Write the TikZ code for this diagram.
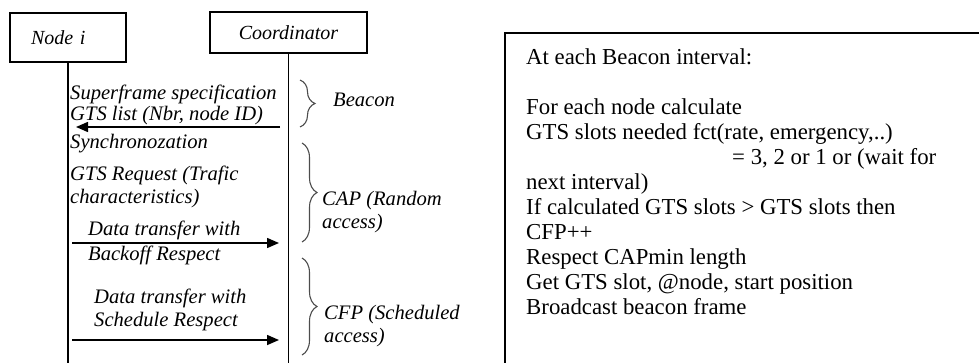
\documentclass[tikz,border=0pt]{standalone}
\usepackage{fontspec}
\setmainfont{Liberation Serif}
\usetikzlibrary{arrows.meta,decorations.pathreplacing}

\begin{document}
\begin{tikzpicture}[x=1pt,y=-1pt,
  actor/.style={draw, line width=1.6pt, inner sep=0pt,
    font=\fontsize{20}{22}\selectfont\itshape},
  lifeline/.style={line width=1.6pt},
  msg/.style={line width=1.5pt, -{Triangle[length=12pt,width=10pt]}},
  lbl/.style={inner sep=0pt, anchor=west, align=left,
    font=\fontsize{20.6}{23}\selectfont\itshape},
  phase/.style={draw=black!70, line width=1.1pt, decorate,
    decoration={brace, amplitude=15pt}},
]
\useasboundingbox (0,0) rectangle (979,362);
\clip (0,0) rectangle (979,362);

% participants
\node[actor, minimum width=116pt, minimum height=49pt, text width=74pt, align=left]
  (nodei) at (68,37.5) {Node i};
\node[actor, minimum width=157pt, minimum height=41pt] (coord) at (288.5,32.5) {Coordinator};

% lifelines
\coordinate (nodeEnd) at (nodei.south |- 0,370);
\coordinate (coordEnd) at (coord.south |- 0,370);
\draw[lifeline] (nodei.south) -- (nodeEnd);
\draw[lifeline] (coord.south) -- (coordEnd);

% beacon message
\node[lbl] (spec) at (70,104.5)
  {Superframe specification\\[-2pt]GTS list (Nbr, node ID)};
\coordinate (bFrom) at (280,127);
\coordinate (bTo) at (76,127);
\draw[msg] (bFrom) -- (bTo);

% contention access period
\node[lbl] (sync) at (70,144) {Synchronozation};
\node[lbl] (req) at (70,186.5) {GTS Request (Trafic\\characteristics)};
\node[lbl] (dt1) at (88,230) {Data transfer with};
\coordinate (d1From) at (72,243);
\coordinate (d1To) at (279,243);
\draw[msg] (d1From) -- (d1To);
\node[lbl] (bo) at (88,255) {Backoff Respect};

% contention free period
\node[lbl] (dt2) at (94,310) {Data transfer with\\Schedule Respect};
\coordinate (d2From) at (72,340);
\coordinate (d2To) at (279,340);
\draw[msg] (d2From) -- (d2To);

% superframe phases
\draw[phase] (300,80) -- (300,127);
\node[lbl] (beacon) at (333,100) {Beacon};
\draw[phase] (302,143) -- (302,242);
\node[lbl] (cap) at (322,212.5) {CAP (Random\\access)};
\draw[phase] (302,258) -- (302,355);
\node[lbl] (cfp) at (324,326.5) {CFP (Scheduled\\access)};

% coordinator algorithm
\node[draw, line width=1.6pt, anchor=north west, minimum width=520pt,
  minimum height=360pt] (algo) at (504,32) {};
\node[anchor=north west, inner sep=0pt, align=left,
  font=\fontsize{22.8}{25}\selectfont] (steps) at (526,48)
  {At each Beacon interval:\\[25pt]
   For each node calculate\\
   GTS slots needed fct(rate, emergency,..)\\
   \hspace*{206pt}= 3, 2 or 1 or (wait for\\
   next interval)\\
   If calculated GTS slots > GTS slots then\\
   CFP++\\
   Respect CAPmin length\\
   Get GTS slot, @node, start position\\
   Broadcast beacon frame};
\end{tikzpicture}
\end{document}
